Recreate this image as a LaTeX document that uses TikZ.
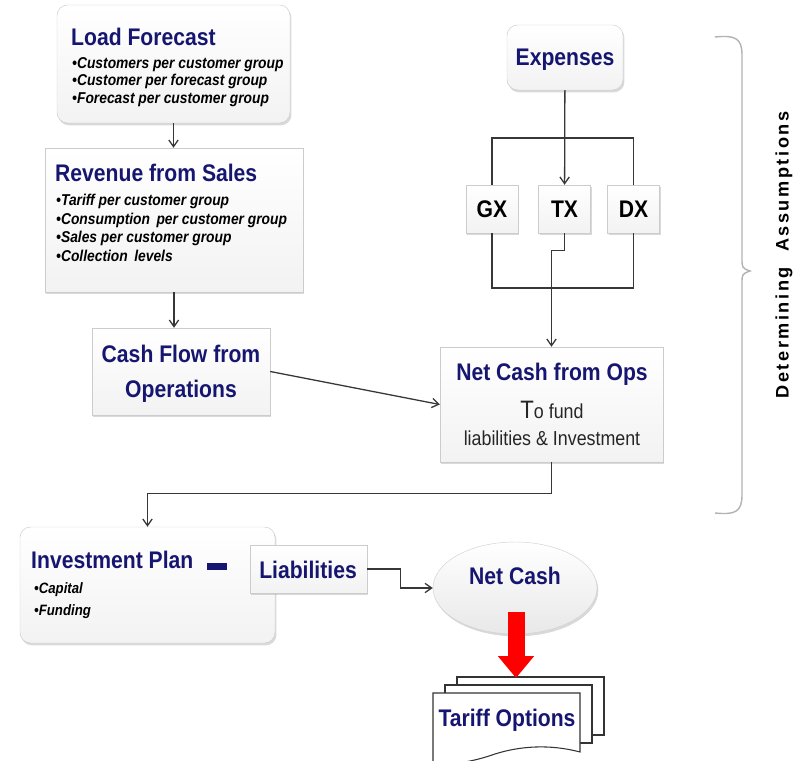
\documentclass[tikz,border=0pt]{standalone}
\usepackage{fontspec}
\setmainfont{Liberation Sans}
\newfontfamily\narrowfont[FakeStretch=0.88]{Liberation Sans}
\newfontfamily\spacedfont[LetterSpace=14]{Liberation Sans}
\usetikzlibrary{positioning,arrows.meta,fit,shapes.geometric,shadows}

\definecolor{titleblue}{RGB}{22,22,112}
\definecolor{linegray}{RGB}{55,55,55}

\tikzset{
  box/.style={draw=gray!40, top color=white, bottom color=gray!10, inner sep=0pt,
    drop shadow={opacity=0.3, shadow xshift=1.2pt, shadow yshift=-2pt}},
  roundbox/.style={box, rounded corners=9pt},
  unitbox/.style={box, minimum width=1.56cm, minimum height=1.44cm,
    font=\narrowfont\bfseries\fontsize{20.5}{22}\selectfont},
  title/.style={font=\narrowfont\bfseries\fontsize{20.5}{22}\selectfont, text=titleblue,
    inner sep=0pt, text depth=0pt},
  bullets/.style={font=\narrowfont\bfseries\itshape\fontsize{13.4}{15}\selectfont,
    align=left, inner sep=0pt},
  note/.style={font=\narrowfont\fontsize{17.3}{20}\selectfont, text=black!85, inner sep=0pt},
  link/.style={draw=linegray, line width=1.1pt, -{Straight Barb[length=0.2cm,width=0.28cm]}},
  wire/.style={draw=linegray, line width=1.1pt},
  page/.style={draw=black!80, fill=white, line width=0.9pt},
}

\begin{document}
\begin{tikzpicture}[x=0.03cm, y=-0.03cm]
  \useasboundingbox (0,0) rectangle (807,761);

  % left column
  \node[roundbox, fit={(57,5) (290,123)}] (load) {};
  \node[title, anchor=west] (loadtitle) at (71,37) {Load Forecast};
  \node[bullets, anchor=north west] (loadlist) at (72,57)
    {•Customers per customer group\\•Customer per forecast group\\•Forecast per customer group};

  \node[box, fit={(45,148) (303,292)}] (revenue) {};
  \node[title, anchor=west] (revtitle) at (55,173) {Revenue from Sales};
  \node[bullets, anchor=north west, font=\narrowfont\bfseries\itshape\fontsize{13.4}{15.8}\selectfont]
    (revlist) at (56,194)
    {•Tariff per customer group\\•Consumption\, per customer group\\•Sales per customer group\\•Collection\, levels};

  \node[box, fit={(92,328) (270,415)}] (cash) {};
  \node[title, align=center, font=\narrowfont\bfseries\fontsize{20.5}{30}\selectfont]
    (cashtitle) at (181,371) {Cash Flow from\\Operations};

  % expenses split
  \node[roundbox, fit={(507,25) (623,90)}] (expenses) {};
  \node[title] (exptitle) at (565,57) {Expenses};

  \node[unitbox] (gx) at (492,209) {GX};
  \node[unitbox] (tx) at (564.5,209) {TX};
  \node[unitbox] (dx) at (633.5,209) {DX};

  \coordinate (split) at (565,138);
  \coordinate (merge) at (565,288);

  \node[box, fit={(440,347) (663,462)}] (ncf) {};
  \node[title] (ncftitle) at (552,372) {Net Cash from Ops};
  \node[note] (ncffund) at (552,410) {{\fontsize{21.5}{22}\selectfont T}o fund};
  \node[note] (ncfliab) at (552,438) {liabilities \& Investment};

  % bottom row
  \node[roundbox, fit={(20,527) (275,643)}] (invest) {};
  \node[title, anchor=west] (invtitle) at (31,560) {Investment Plan};
  \node[bullets, anchor=north west, font=\narrowfont\bfseries\itshape\fontsize{12.8}{19}\selectfont]
    (invlist) at (34,582) {•Capital\\•Funding};
  \node[fill=titleblue, minimum width=0.6cm, minimum height=0.21cm, inner sep=0pt] (minus) at (217,566.5) {};

  \node[box, fit={(250,545) (367,593)}] (liab) {};
  \node[title] (liabtitle) at (308,570) {Liabilities};

  \node[ellipse, draw=gray!35, top color=white, bottom color=gray!18, minimum width=4.92cm,
    minimum height=2.76cm, drop shadow={opacity=0.3, shadow xshift=1.2pt, shadow yshift=-2pt}]
    (netcash) at (515,588) {};
  \node[title] (netcashtitle) at (515,576) {Net Cash};

  % stacked documents
  \draw[page] (457,677) rectangle (604,735);
  \draw[page] (445,685) rectangle (592,743);
  \draw[page] (433,693) -- (580,693) -- (580,752)
    .. controls (550,744) and (520,746) .. (495,754)
    .. controls (475,761) and (455,765) .. (433,764) -- cycle;
  \node[title] (tariff) at (507,718) {Tariff Options};

  \coordinate (redtop) at (516,612);
  \coordinate (redtip) at (516,678);
  \draw[line width=0.51cm, red, -{Triangle[length=0.66cm,width=1.05cm]}] (redtop) -- (redtip);

  % connectors
  \draw[link] (load.south) -- (load.south |- revenue.north);
  \draw[link] (revenue.south) -- (revenue.south |- cash.north);
  \draw[link] (cash.east) -- (ncf.west);
  \draw[link] (expenses) -- (tx);
  \draw[wire] (gx.north) |- (split) -| (dx.north);
  \draw[wire] (gx.south) |- (merge) -| (dx.south);
  \draw[link] (tx.south) -- ++(0,17) -| (ncf.north);
  \draw[link] (ncf.south) -- ++(0,31) -| (invest.north);
  \draw[link] (liab.east) -- ++(33,0) |- (netcash.west);

  % brace
  \draw[gray!60, line width=1.2pt] (715,37) .. controls (735,35) and (742,38) .. (742,55)
    -- (742,258) .. controls (742,268) .. (750,271) .. controls (742,274) .. (742,284)
    -- (742,495) .. controls (742,512) and (735,515) .. (715,513);
  \node[rotate=90, font=\spacedfont\bfseries\fontsize{15.5}{18}\selectfont] (assume) at (784,255)
    {Determining\ \ Assumptions};
\end{tikzpicture}
\end{document}
